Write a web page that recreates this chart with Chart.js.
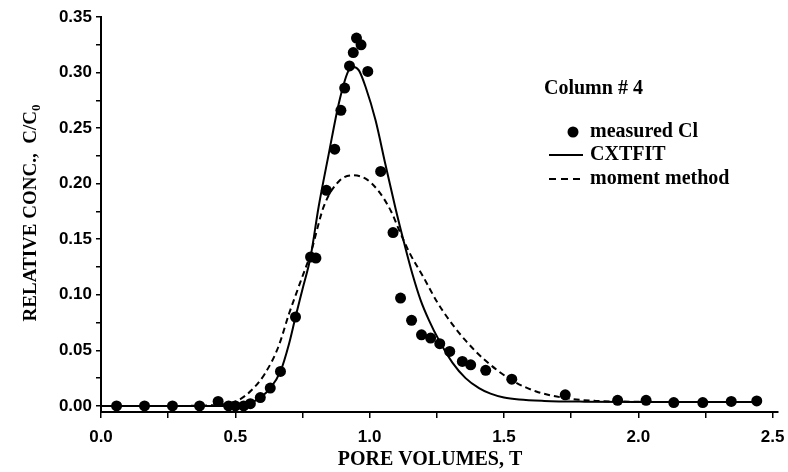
<!DOCTYPE html>
<html>
<head>
<meta charset="utf-8">
<script src="https://cdn.jsdelivr.net/npm/chart.js@4.4.1/dist/chart.umd.min.js"></script>
<style>
  html, body { margin: 0; padding: 0; background: #fff; }
  #wrap { width: 788px; height: 472px; position: relative; }
</style>
</head>
<body>
<div id="wrap"><canvas id="chart"></canvas></div>
<script>
// measured Cl breakthrough points
const measuredX = [0.058, 0.162, 0.266, 0.367, 0.436, 0.475, 0.50, 0.531, 0.556, 0.593, 0.63, 0.668, 0.724, 0.78, 0.80,
  0.839, 0.870, 0.893, 0.907, 0.925, 0.939, 0.951, 0.968, 0.993, 1.041, 1.087, 1.115, 1.156, 1.193, 1.227, 1.261,
  1.298, 1.345, 1.376, 1.432, 1.529, 1.728, 1.923, 2.029, 2.132, 2.24, 2.346, 2.441];
const measuredY = [0, 0, 0, 0, 0.004, 0, 0, 0, 0.002, 0.0075, 0.016, 0.031, 0.080, 0.134, 0.133,
  0.194, 0.231, 0.266, 0.286, 0.306, 0.318, 0.331, 0.325, 0.301, 0.211, 0.156, 0.097, 0.077, 0.064, 0.061, 0.056,
  0.049, 0.040, 0.037, 0.032, 0.024, 0.010, 0.005, 0.005, 0.003, 0.003, 0.004, 0.0045];

// CXTFIT curve (solid)
const cxtfitX = [0.0, 0.3, 0.45, 0.5, 0.55, 0.593, 0.63, 0.668, 0.7, 0.724, 0.75, 0.78, 0.81, 0.848, 0.885, 0.92, 0.94,
  0.96, 0.985, 1.022, 1.059, 1.097, 1.128, 1.16, 1.19, 1.221, 1.258, 1.308, 1.357, 1.407, 1.45, 1.5, 1.556, 1.65, 1.8,
  2.0, 2.2, 2.45];
const cxtfitY = [0, 0, 0, 0.0005, 0.002, 0.0075, 0.016, 0.031, 0.056, 0.080, 0.105, 0.134, 0.179, 0.227, 0.272, 0.301, 0.305,
  0.302, 0.287, 0.257, 0.217, 0.177, 0.147, 0.118, 0.095, 0.077, 0.059, 0.039, 0.025, 0.016, 0.011, 0.0075, 0.0057, 0.0045, 0.0038,
  0.0035, 0.0035, 0.0035];

// moment method curve (dashed)
const momentX = [0.0, 0.3, 0.44, 0.51, 0.56, 0.61, 0.66, 0.70, 0.74, 0.78, 0.83, 0.885, 0.935, 0.985, 1.034, 1.08, 1.11,
  1.15, 1.2, 1.25, 1.3, 1.36, 1.43, 1.53, 1.62, 1.73, 1.84, 1.97, 2.1, 2.3, 2.45];
const momentY = [0, 0, 0.001, 0.005, 0.014, 0.029, 0.053, 0.083, 0.110, 0.137, 0.180, 0.202, 0.2075, 0.2045, 0.193, 0.175, 0.158,
  0.137, 0.116, 0.094, 0.076, 0.058, 0.041, 0.023, 0.013, 0.007, 0.0045, 0.0038, 0.0035, 0.0035, 0.0035];

const xTicks = [0, 0.25, 0.5, 0.75, 1.0, 1.25, 1.5, 1.75, 2.0, 2.25, 2.5];
const xTickLabels = ["0.0", "", "0.5", "", "1.0", "", "1.5", "", "2.0", "", "2.5"];
const yTicks = [0, 0.025, 0.05, 0.075, 0.10, 0.125, 0.15, 0.175, 0.20, 0.225, 0.25, 0.275, 0.30, 0.325, 0.35];
const yTickLabels = ["0.00", "", "0.05", "", "0.10", "", "0.15", "", "0.20", "", "0.25", "", "0.30", "", "0.35"];

const toPoints = (xs, ys) => xs.map((x, i) => ({ x: x, y: ys[i] }));

const tickFont = { family: "'Liberation Sans', Arial, sans-serif", size: 17, weight: "bold" };
const serif = "'Liberation Serif', 'Times New Roman', serif";

// axis titles + in-plot legend, drawn on the canvas
const annotations = {
  id: "annotations",
  afterDraw(chart) {
    const ctx = chart.ctx;
    ctx.save();
    ctx.fillStyle = "#000";
    ctx.strokeStyle = "#000";

    // x title
    ctx.font = "bold 20px " + serif;
    ctx.textAlign = "center";
    ctx.textBaseline = "middle";
    ctx.fillText("PORE VOLUMES, T", 430, 460);

    // y title with subscript
    ctx.save();
    ctx.translate(31, 213);
    ctx.rotate(-Math.PI / 2);
    ctx.font = "bold 19px " + serif;
    const main = "RELATIVE CONC.,  C/C";
    const w = ctx.measureText(main).width;
    ctx.font = "bold 13px " + serif;
    const ws = ctx.measureText("0").width;
    const start = -(w + ws) / 2;
    ctx.textAlign = "left";
    ctx.font = "bold 19px " + serif;
    ctx.fillText(main, start, 0);
    ctx.font = "bold 13px " + serif;
    ctx.fillText("0", start + w, 6);
    ctx.restore();

    // legend
    ctx.textAlign = "left";
    ctx.font = "bold 20px " + serif;
    ctx.fillText("Column # 4", 544, 89);
    ctx.fillText("measured Cl", 590, 132);
    ctx.fillText("CXTFIT", 590, 155);
    ctx.fillText("moment method", 590, 179);

    ctx.beginPath();
    ctx.arc(573, 132, 5.5, 0, Math.PI * 2);
    ctx.fill();

    ctx.lineWidth = 1.8;
    ctx.beginPath();
    ctx.moveTo(549, 155);
    ctx.lineTo(583, 155);
    ctx.stroke();

    ctx.setLineDash([7, 5]);
    ctx.beginPath();
    ctx.moveTo(549, 179);
    ctx.lineTo(583, 179);
    ctx.stroke();
    ctx.restore();
  }
};

new Chart(document.getElementById("chart").getContext("2d"), {
  type: "scatter",
  data: {
    datasets: [
      {
        label: "measured Cl",
        data: toPoints(measuredX, measuredY),
        showLine: false,
        pointRadius: 5.5,
        pointBackgroundColor: "#000",
        pointBorderColor: "#000",
        pointBorderWidth: 0
      },
      {
        label: "CXTFIT",
        data: toPoints(cxtfitX, cxtfitY),
        showLine: true,
        borderColor: "#000",
        borderWidth: 2,
        pointRadius: 0,
        cubicInterpolationMode: "monotone"
      },
      {
        label: "moment method",
        data: toPoints(momentX, momentY),
        showLine: true,
        borderColor: "#000",
        borderWidth: 2,
        borderDash: [6, 4],
        pointRadius: 0,
        cubicInterpolationMode: "monotone"
      }
    ]
  },
  options: {
    responsive: true,
    maintainAspectRatio: false,
    animation: false,
    layout: { padding: { left: 0, top: 17, right: 10, bottom: 0 } },
    plugins: {
      legend: { display: false },
      tooltip: { enabled: false }
    },
    scales: {
      x: {
        type: "linear",
        min: 0,
        max: 2.52,
        afterBuildTicks: (scale) => { scale.ticks = xTicks.map((v) => ({ value: v })); },
        afterFit: (scale) => {
          scale.height = 472 - 412;
          scale.paddingLeft = 0;
          scale.paddingRight = 0;
        },
        ticks: {
          autoSkip: false,
          maxRotation: 0,
          color: "#000",
          font: tickFont,
          padding: 9,
          callback: (v, i) => xTickLabels[i]
        },
        grid: { drawOnChartArea: false, drawTicks: true, tickLength: 6, color: "#000", lineWidth: 1.5 },
        border: { display: true, color: "#000", width: 2 }
      },
      y: {
        type: "linear",
        min: -0.0055,
        max: 0.35,
        afterBuildTicks: (scale) => { scale.ticks = yTicks.map((v) => ({ value: v })); },
        afterFit: (scale) => {
          scale.width = 101;
          scale.paddingTop = 0;
          scale.paddingBottom = 0;
        },
        ticks: {
          autoSkip: false,
          color: "#000",
          font: tickFont,
          padding: 4,
          callback: (v, i) => yTickLabels[i]
        },
        grid: { drawOnChartArea: false, drawTicks: true, tickLength: 5, color: "#000", lineWidth: 1.5 },
        border: { display: true, color: "#000", width: 2 }
      }
    }
  },
  plugins: [annotations]
});
</script>
</body>
</html>
